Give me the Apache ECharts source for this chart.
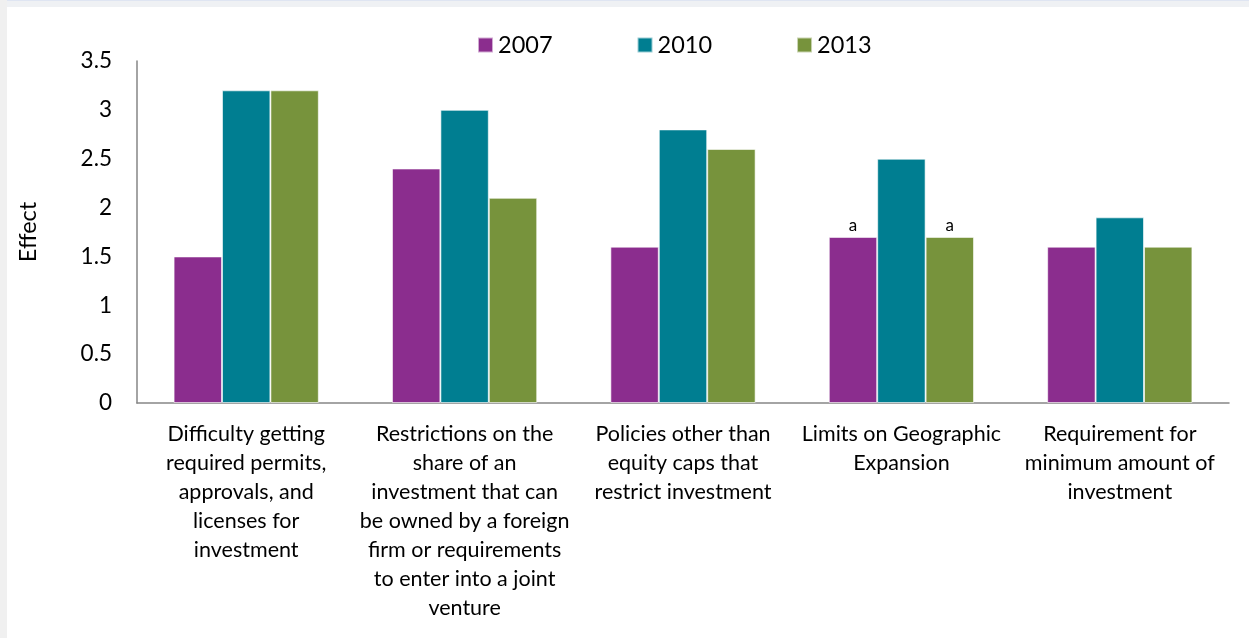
<!DOCTYPE html>
<html>
<head>
<meta charset="utf-8">
<script src="https://cdn.jsdelivr.net/npm/echarts@6/dist/echarts.min.js"></script>
<style>
  html, body { margin: 0; padding: 0; background: #ffffff; }
  #chart { width: 1249px; height: 638px; }
</style>
</head>
<body>
<div id="chart"></div>
<script>
// Category names (line breaks as printed under each group)
const categories = [
  'Difficulty getting\nrequired permits,\napprovals, and\nlicenses for\ninvestment',
  'Restrictions on the\nshare of an\ninvestment that can\nbe owned by a foreign\nfirm or requirements\nto enter into a joint\nventure',
  'Policies other than\nequity caps that\nrestrict investment',
  'Limits on Geographic\nExpansion',
  'Requirement for\nminimum amount of\ninvestment'
];
const years = ['2007', '2010', '2013'];
const values2007 = [1.5, 2.4, 1.6, 1.7, 1.6];
const values2010 = [3.2, 3.0, 2.8, 2.5, 1.9];
const values2013 = [3.2, 2.1, 2.6, 1.7, 1.6];
// Footnote marks shown above individual bars ('' = none)
const notes2007 = ['', '', '', 'a', ''];
const notes2010 = ['', '', '', '', ''];
const notes2013 = ['', '', '', 'a', ''];
const yTicks = [0, 0.5, 1, 1.5, 2, 2.5, 3, 3.5];

const colors = ['#8B2D8E', '#007E91', '#77933C'];
const FONT = 'Lato, "Open Sans", sans-serif';

function makeSeries(name, values, notes, color) {
  return {
    name: name,
    type: 'bar',
    data: values.map((v, i) => ({
      value: v,
      label: {
        show: notes[i] !== '',
        formatter: notes[i],
        position: 'top',
        distance: 3,
        color: '#000',
        fontSize: 17,
        fontFamily: FONT
      }
    })),
    itemStyle: { color: color, borderColor: 'rgba(255,255,255,0.6)', borderWidth: 1 },
    barGap: '0%',
    barCategoryGap: '33.5%'
  };
}

const chart = echarts.init(document.getElementById('chart'), null, { renderer: 'canvas' });
chart.setOption({
  animation: false,
  backgroundColor: '#ffffff',
  color: colors,
  textStyle: { fontFamily: FONT },
  graphic: [
    { type: 'rect', left: 0, top: 0, shape: { width: 1249, height: 7 }, style: { fill: '#eff1f4' }, silent: true },
    { type: 'rect', left: 0, top: 0, shape: { width: 1249, height: 1 }, style: { fill: '#dfe5f2' }, silent: true },
    { type: 'rect', left: 0, top: 0, shape: { width: 7, height: 638 }, style: { fill: '#f0f0f0' }, silent: true }
  ],
  legend: {
    data: years,
    left: 472,
    top: 28,
    itemWidth: 15,
    itemHeight: 15,
    itemGap: 84,
    icon: 'rect',
    textStyle: { fontSize: 23.5, color: '#000', fontFamily: FONT }
  },
  grid: { left: 137, right: 20, top: 61, bottom: 235, containLabel: false },
  xAxis: {
    type: 'category',
    data: categories,
    axisLine: { show: true, lineStyle: { color: '#868686', width: 1.5 } },
    axisTick: { show: false },
    axisLabel: {
      interval: 0,
      margin: 17,
      fontSize: 21.5,
      lineHeight: 29,
      color: '#000',
      fontFamily: FONT,
      align: 'center'
    }
  },
  yAxis: {
    type: 'value',
    min: 0,
    max: 3.5,
    interval: 0.5,
    name: 'Effect',
    nameLocation: 'middle',
    nameGap: 97,
    nameTextStyle: { fontSize: 23.5, color: '#000', fontFamily: FONT },
    axisLine: { show: true, lineStyle: { color: '#868686', width: 1.5 } },
    axisTick: { show: false },
    splitLine: { show: false },
    axisLabel: {
      margin: 25,
      fontSize: 22.5,
      color: '#000',
      fontFamily: FONT,
      formatter: v => yTicks.includes(v) ? String(v) : ''
    }
  },
  series: [
    makeSeries(years[0], values2007, notes2007, colors[0]),
    makeSeries(years[1], values2010, notes2010, colors[1]),
    makeSeries(years[2], values2013, notes2013, colors[2])
  ]
});
</script>
</body>
</html>
